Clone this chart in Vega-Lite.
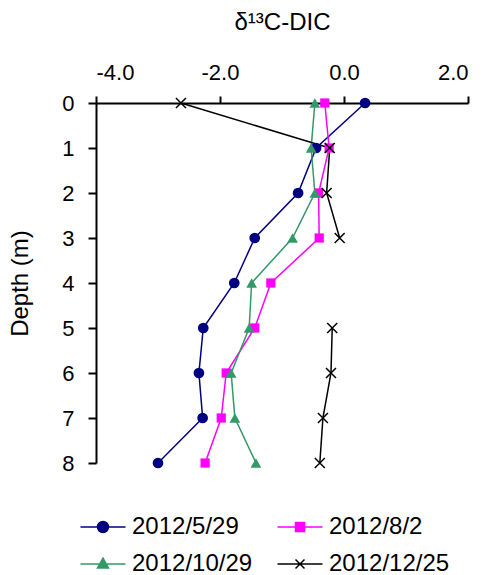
{
  "$schema": "https://vega.github.io/schema/vega-lite/v6.json",
  "autosize": "none",
  "width": 372,
  "height": 360,
  "padding": {"left": 96, "top": 103, "right": 16, "bottom": 112},
  "background": "white",
  "config": {
    "view": {"stroke": null},
    "font": "Liberation Sans",
    "axis": {
      "domainColor": "black", "domainWidth": 2,
      "tickColor": "black", "tickWidth": 2,
      "grid": false,
      "labelFont": "Liberation Sans", "labelFontSize": 22, "labelColor": "black",
      "titleFont": "Liberation Sans", "titleFontSize": 24, "titleFontWeight": "normal", "titleColor": "black"
    }
  },
  "datasets": {
    "profiles": [
      {"date": "2012/5/29", "depth": 0, "d13C": 0.34},
      {"date": "2012/5/29", "depth": 1, "d13C": -0.45},
      {"date": "2012/5/29", "depth": 2, "d13C": -0.74},
      {"date": "2012/5/29", "depth": 3, "d13C": -1.44},
      {"date": "2012/5/29", "depth": 4, "d13C": -1.77},
      {"date": "2012/5/29", "depth": 5, "d13C": -2.27},
      {"date": "2012/5/29", "depth": 6, "d13C": -2.34},
      {"date": "2012/5/29", "depth": 7, "d13C": -2.28},
      {"date": "2012/5/29", "depth": 8, "d13C": -3.0},
      {"date": "2012/8/2", "depth": 0, "d13C": -0.31},
      {"date": "2012/8/2", "depth": 1, "d13C": -0.24},
      {"date": "2012/8/2", "depth": 2, "d13C": -0.41},
      {"date": "2012/8/2", "depth": 3, "d13C": -0.40},
      {"date": "2012/8/2", "depth": 4, "d13C": -1.18},
      {"date": "2012/8/2", "depth": 5, "d13C": -1.44},
      {"date": "2012/8/2", "depth": 6, "d13C": -1.90},
      {"date": "2012/8/2", "depth": 7, "d13C": -1.98},
      {"date": "2012/8/2", "depth": 8, "d13C": -2.24},
      {"date": "2012/10/29", "depth": 0, "d13C": -0.47},
      {"date": "2012/10/29", "depth": 1, "d13C": -0.53},
      {"date": "2012/10/29", "depth": 2, "d13C": -0.47},
      {"date": "2012/10/29", "depth": 3, "d13C": -0.83},
      {"date": "2012/10/29", "depth": 4, "d13C": -1.49},
      {"date": "2012/10/29", "depth": 5, "d13C": -1.53},
      {"date": "2012/10/29", "depth": 6, "d13C": -1.82},
      {"date": "2012/10/29", "depth": 7, "d13C": -1.76},
      {"date": "2012/10/29", "depth": 8, "d13C": -1.42},
      {"date": "2012/12/25", "depth": 0, "d13C": -2.63},
      {"date": "2012/12/25", "depth": 1, "d13C": -0.23},
      {"date": "2012/12/25", "depth": 2, "d13C": -0.28},
      {"date": "2012/12/25", "depth": 3, "d13C": -0.07},
      {"date": "2012/12/25", "depth": 4, "d13C": null},
      {"date": "2012/12/25", "depth": 5, "d13C": -0.19},
      {"date": "2012/12/25", "depth": 6, "d13C": -0.21},
      {"date": "2012/12/25", "depth": 7, "d13C": -0.34},
      {"date": "2012/12/25", "depth": 8, "d13C": -0.39}
    ]
  },
  "data": {"name": "profiles"},
  "encoding": {
    "x": {
      "field": "d13C", "type": "quantitative",
      "scale": {"domain": [-4, 2], "nice": false, "zero": false},
      "axis": {
        "orient": "top", "values": [-4, -2, 0, 2], "format": ".1f",
        "labelExpr": "replace(datum.label, '\u2212', '-')",
        "tickSize": 7, "labelPadding": 12, "title": "δ¹³C-DIC", "titlePadding": 27
      }
    },
    "y": {
      "field": "depth", "type": "quantitative",
      "scale": {"domain": [0, 8], "reverse": true, "nice": false},
      "axis": {
        "values": [0, 1, 2, 3, 4, 5, 6, 7, 8], "format": "d",
        "tickSize": 8, "labelPadding": 14, "title": "Depth (m)", "titlePadding": 29
      }
    },
    "color": {
      "field": "date", "type": "nominal",
      "scale": {"domain": ["2012/5/29", "2012/8/2", "2012/10/29", "2012/12/25"], "range": ["#000080", "#FF00FF", "#339966", "#000000"]},
      "legend": {
        "title": null, "orient": "none", "legendX": -5, "legendY": 412,
        "direction": "horizontal", "columns": 2, "columnPadding": 21, "rowPadding": 13,
        "padding": 0, "symbolSize": 400, "symbolStrokeWidth": 1.5, "labelOffset": 17,
        "labelFont": "Liberation Sans", "labelFontSize": 24, "labelColor": "black", "labelLimit": 300,
        "symbolType": "M-2.25,0H2.25",
        "encode": {
          "symbols": {
            "update": {
              "shape": {"signal": "datum.value === '2012/5/29' ? 'M-2.25,0H2.25M-0.55,0A0.55,0.55 0 1,1 0.55,0A0.55,0.55 0 1,1 -0.55,0Z' : datum.value === '2012/8/2' ? 'M-2.25,0H2.25M-0.45,-0.45H0.45V0.45H-0.45Z' : datum.value === '2012/10/29' ? 'M-2.25,0H2.25M0,-0.6L0.55,0.4H-0.55Z' : 'M-2.25,0H2.25M-0.45,-0.45L0.45,0.45M-0.45,0.45L0.45,-0.45'"},
              "fill": {"scale": "color", "field": "value"},
              "stroke": {"scale": "color", "field": "value"},
              "strokeWidth": {"value": 1.5},
              "size": {"value": 400},
              "opacity": {"value": 1}
            }
          }
        }
      }
    }
  },
  "layer": [
    {
      "mark": {"type": "line", "strokeWidth": 1.5, "invalid": "break-paths-show-domains"},
      "encoding": {
        "order": {"field": "depth", "type": "quantitative"}
      }
    },
    {
      "transform": [{"filter": "datum.date === '2012/5/29'"}],
      "mark": {"type": "point", "shape": "circle", "filled": true, "size": 115, "opacity": 1}
    },
    {
      "transform": [{"filter": "datum.date === '2012/8/2'"}],
      "mark": {"type": "point", "shape": "square", "filled": true, "size": 85, "opacity": 1}
    },
    {
      "transform": [{"filter": "datum.date === '2012/10/29'"}],
      "mark": {"type": "point", "shape": "triangle-up", "filled": true, "size": 115, "opacity": 1}
    },
    {
      "transform": [{"filter": "datum.date === '2012/12/25'"}],
      "mark": {"type": "point", "shape": "M-1,-1L1,1M-1,1L1,-1", "filled": false, "size": 100, "strokeWidth": 1.5, "opacity": 1}
    }
  ]
}
